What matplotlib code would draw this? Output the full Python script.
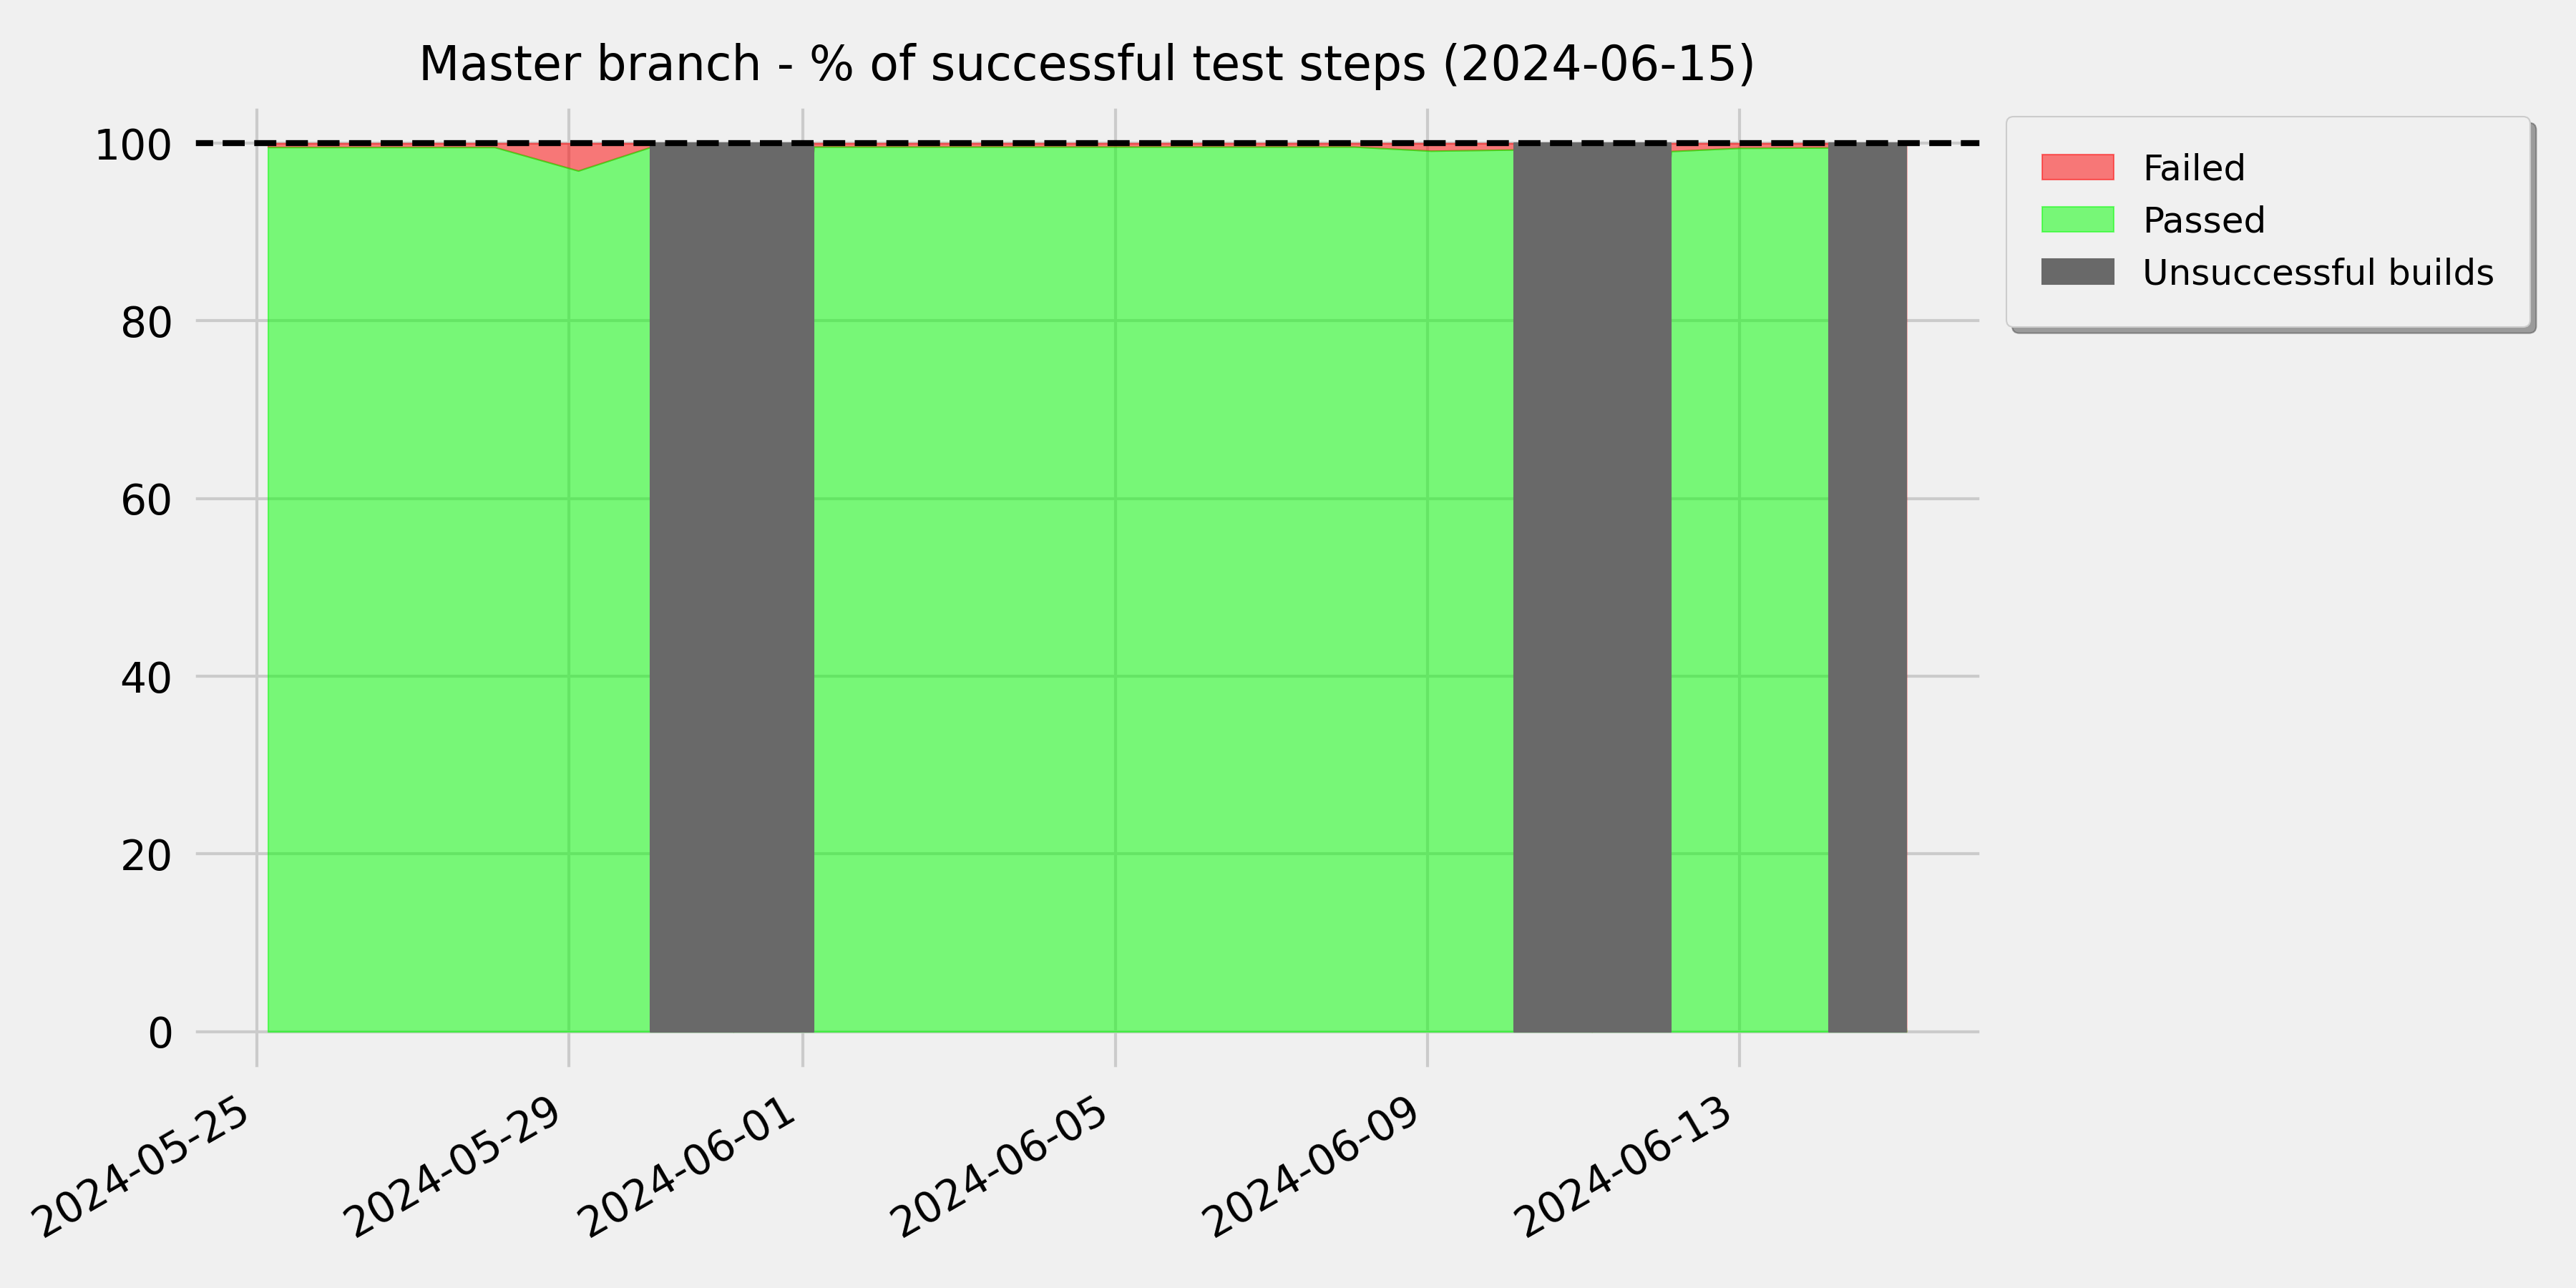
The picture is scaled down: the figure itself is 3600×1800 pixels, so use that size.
import pandas as pd
import matplotlib
matplotlib.use('Agg')
import matplotlib.pyplot as plt
import matplotlib.dates as mdates

# nightly builds on master, None = build did not succeed
build_times = [
    '2024-05-25 03:25', '2024-05-26 02:30', '2024-05-27 02:30', '2024-05-28 01:10',
    '2024-05-29 02:50', '2024-05-30 01:00', '2024-05-31 02:30', '2024-06-01 03:15',
    '2024-06-02 02:30', '2024-06-03 02:30', '2024-06-04 02:30', '2024-06-05 02:30',
    '2024-06-06 02:30', '2024-06-07 02:30', '2024-06-08 01:25', '2024-06-09 01:00',
    '2024-06-10 02:40', '2024-06-11 02:30', '2024-06-12 02:50', '2024-06-13 00:00',
    '2024-06-14 03:20', '2024-06-15 03:10',
]
passed_pct = [
    99.55, 99.55, 99.55, 99.55, 96.9, 99.55, None, 99.6,
    99.6, 99.6, 99.6, 99.6, 99.6, 99.6, 99.6, 99.14,
    99.27, None, 99.1, 99.46, 99.5, None,
]
report_date = '2024-06-15'

#---------------------------------------------------------------
#PANDAS

df = pd.DataFrame({'time': pd.to_datetime(build_times), 'passed': passed_pct})
df['passed'] = pd.to_numeric(df['passed'])
df['unsuccessful'] = df['passed'].isna()
df['passed'] = df['passed'].fillna(0)

# grey block goes from the last good build to the next good one
bad = df['unsuccessful']
df['grey'] = bad | bad.shift(1, fill_value=False) | bad.shift(-1, fill_value=False)

#---------------------------------------------------------------
#VIZUALIZATION

plt.style.use('fivethirtyeight')
fig, ax = plt.subplots(figsize=(12, 6), dpi=300)

ax.fill_between(df['time'], df['passed'], 100, color='red', alpha=0.5, label='Failed')
ax.fill_between(df['time'], 0, df['passed'], color='lime', alpha=0.5, label='Passed')
ax.fill_between(df['time'], 0, 100, where=df['grey'], color='dimgray',
                label='Unsuccessful builds')
ax.axhline(100, color='black', linestyle='--', linewidth=2)

ax.set_title(f'Master branch - % of successful test steps ({report_date})', fontsize=16, pad=8)

ax.margins(x=0.047)
ax.set_ylim(-4.43, 104.43)
ax.set_yticks([0, 20, 40, 60, 80, 100])

ax.xaxis.set_major_locator(mdates.DayLocator(bymonthday=[1, 5, 9, 13, 17, 21, 25, 29]))
ax.xaxis.set_major_formatter(mdates.DateFormatter('%Y-%m-%d'))
ax.tick_params(axis='both', pad=6)
plt.setp(ax.get_xticklabels(), rotation=30, ha='right')

ax.legend(loc='upper left', bbox_to_anchor=(0.7788, 0.9093), bbox_transform=fig.transFigure,
          borderaxespad=0, borderpad=1.0, fontsize=12, shadow=True, frameon=True)

fig.subplots_adjust(left=0.0741, right=0.7699, bottom=0.1685, top=0.9194)
fig.savefig('out.png', dpi=300)
